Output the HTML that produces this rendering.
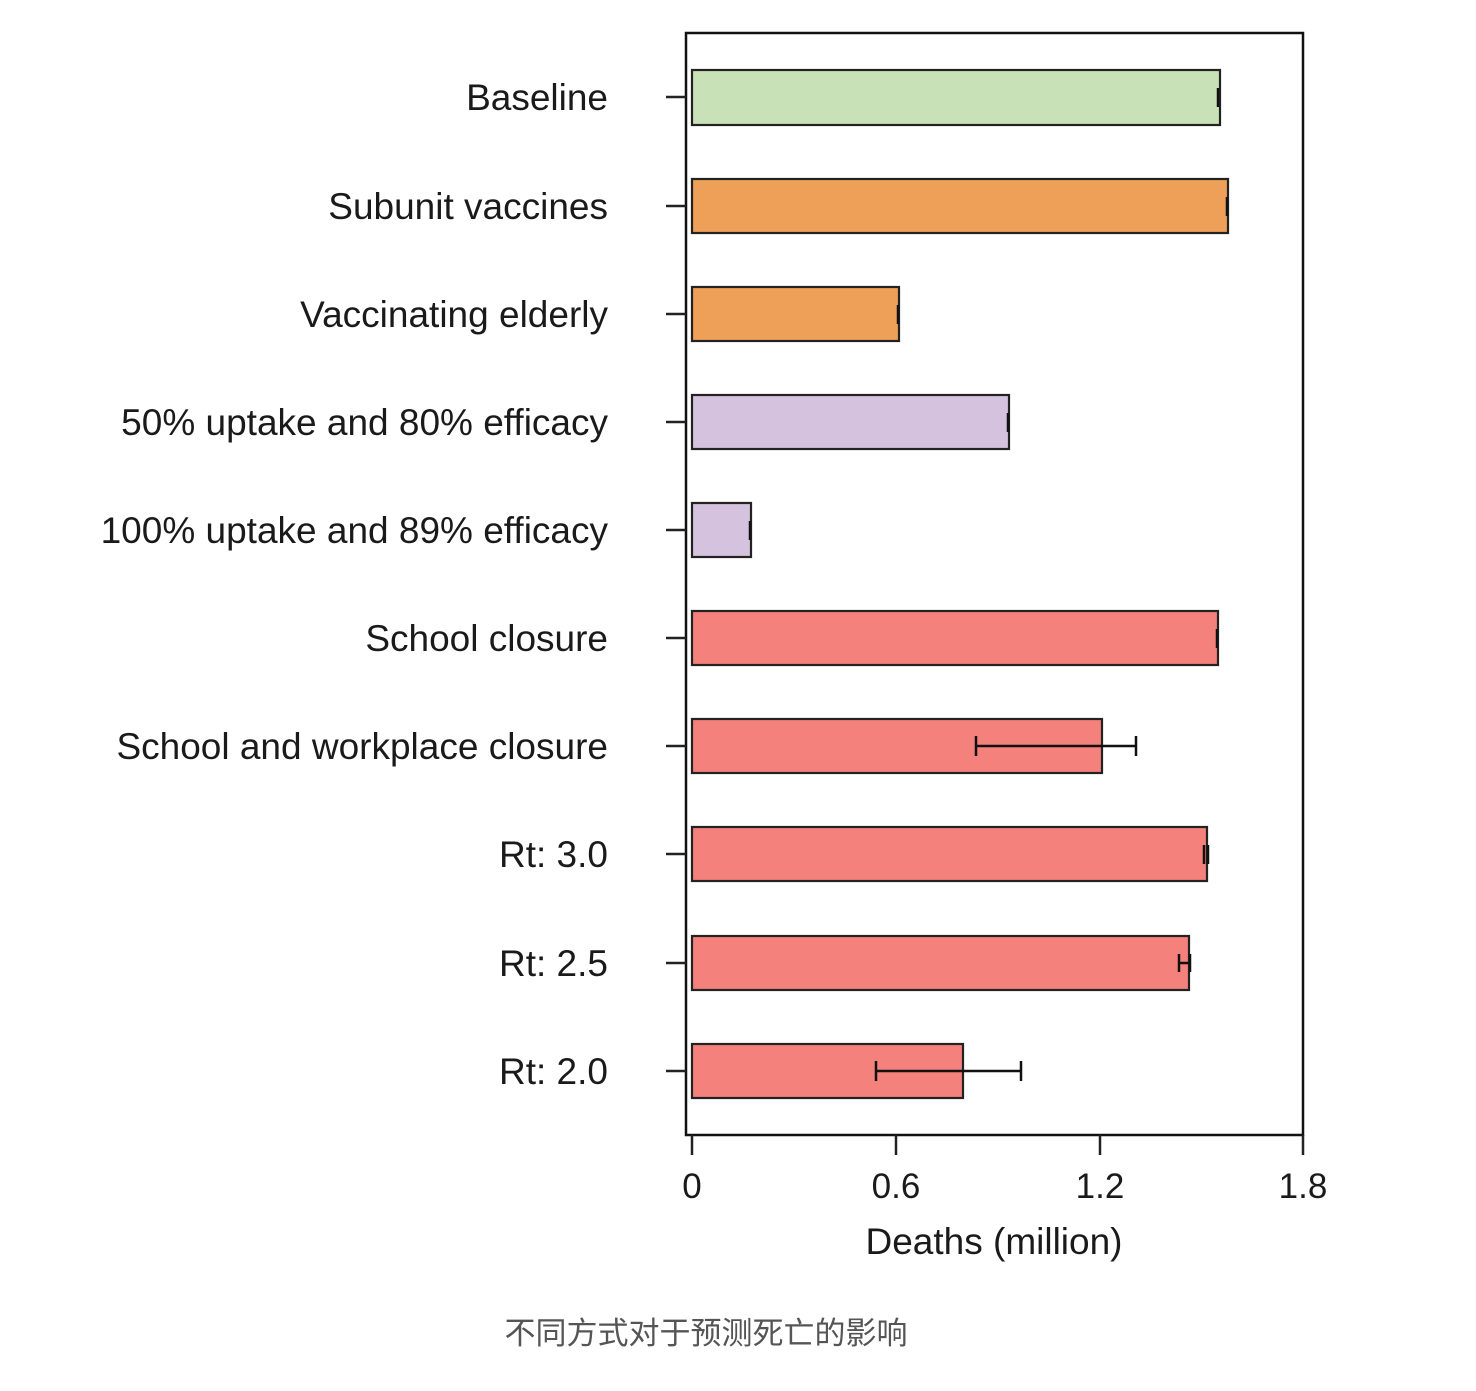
<!DOCTYPE html>
<html><head><meta charset="utf-8"><style>
html,body{margin:0;padding:0;background:#fff;width:1476px;height:1391px;overflow:hidden}
svg text{font-family:"Liberation Sans","Noto Sans CJK SC",sans-serif}
</style></head><body>
<svg width="1476" height="1391" viewBox="0 0 1476 1391" xmlns="http://www.w3.org/2000/svg">
<rect x="686" y="33" width="617" height="1102" fill="none" stroke="#111" stroke-width="2.5"/>
<g stroke="#222" stroke-width="2.2">
<rect x="692" y="70" width="528" height="55" fill="#c9e1b6"/>
<rect x="692" y="179" width="536" height="54" fill="#ee9f58"/>
<rect x="692" y="287" width="207" height="54" fill="#ee9f58"/>
<rect x="692" y="395" width="317" height="54" fill="#d4c2df"/>
<rect x="692" y="503" width="59" height="54" fill="#d4c2df"/>
<rect x="692" y="611" width="526" height="54" fill="#f4817b"/>
<rect x="692" y="719" width="410" height="54" fill="#f4817b"/>
<rect x="692" y="827" width="515" height="54" fill="#f4817b"/>
<rect x="692" y="936" width="497" height="54" fill="#f4817b"/>
<rect x="692" y="1044" width="271" height="54" fill="#f4817b"/>
</g>
<g stroke="#111" stroke-width="2.5">
<line x1="1218" y1="88" x2="1218" y2="107"/><line x1="1227" y1="197" x2="1227" y2="216"/>
<line x1="898" y1="305" x2="898" y2="324"/><line x1="1008" y1="413" x2="1008" y2="432"/>
<line x1="750" y1="521" x2="750" y2="540"/><line x1="1217" y1="629" x2="1217" y2="648"/>
<line x1="976" y1="746" x2="1136" y2="746"/><line x1="976" y1="736" x2="976" y2="756"/><line x1="1136" y1="736" x2="1136" y2="756"/>
<line x1="1204" y1="845" x2="1204" y2="864"/><line x1="1208" y1="845" x2="1208" y2="864"/>
<line x1="1178" y1="963" x2="1191" y2="963"/><line x1="1179" y1="954" x2="1179" y2="972"/><line x1="1190" y1="954" x2="1190" y2="972"/>
<line x1="876" y1="1071" x2="1021" y2="1071"/><line x1="876" y1="1061" x2="876" y2="1081"/><line x1="1021" y1="1061" x2="1021" y2="1081"/>
</g>
<g stroke="#222" stroke-width="2.5">
<line x1="666" y1="97" x2="686" y2="97"/><line x1="666" y1="206" x2="686" y2="206"/><line x1="666" y1="314" x2="686" y2="314"/>
<line x1="666" y1="422" x2="686" y2="422"/><line x1="666" y1="530" x2="686" y2="530"/><line x1="666" y1="638" x2="686" y2="638"/>
<line x1="666" y1="746" x2="686" y2="746"/><line x1="666" y1="854" x2="686" y2="854"/><line x1="666" y1="963" x2="686" y2="963"/>
<line x1="666" y1="1071" x2="686" y2="1071"/>
<line x1="692" y1="1135" x2="692" y2="1155"/><line x1="896" y1="1135" x2="896" y2="1155"/>
<line x1="1100" y1="1135" x2="1100" y2="1155"/><line x1="1303" y1="1135" x2="1303" y2="1155"/>
</g>
<g font-size="37" fill="#1a1a1a" text-anchor="end">
<text x="608" y="110">Baseline</text><text x="608" y="219">Subunit vaccines</text>
<text x="608" y="327">Vaccinating elderly</text><text x="608" y="435">50% uptake and 80% efficacy</text>
<text x="608" y="543">100% uptake and 89% efficacy</text><text x="608" y="651">School closure</text>
<text x="608" y="759">School and workplace closure</text><text x="608" y="867">Rt: 3.0</text>
<text x="608" y="976">Rt: 2.5</text><text x="608" y="1084">Rt: 2.0</text>
</g>
<g font-size="35" fill="#1a1a1a" text-anchor="middle">
<text x="692" y="1198">0</text><text x="896" y="1198">0.6</text><text x="1100" y="1198">1.2</text><text x="1303" y="1198">1.8</text>
<text x="994" y="1254" font-size="37">Deaths (million)</text>
</g>
<text x="706" y="1344" font-size="31" fill="#555" text-anchor="middle">不同方式对于预测死亡的影响</text>
</svg>
</body></html>
